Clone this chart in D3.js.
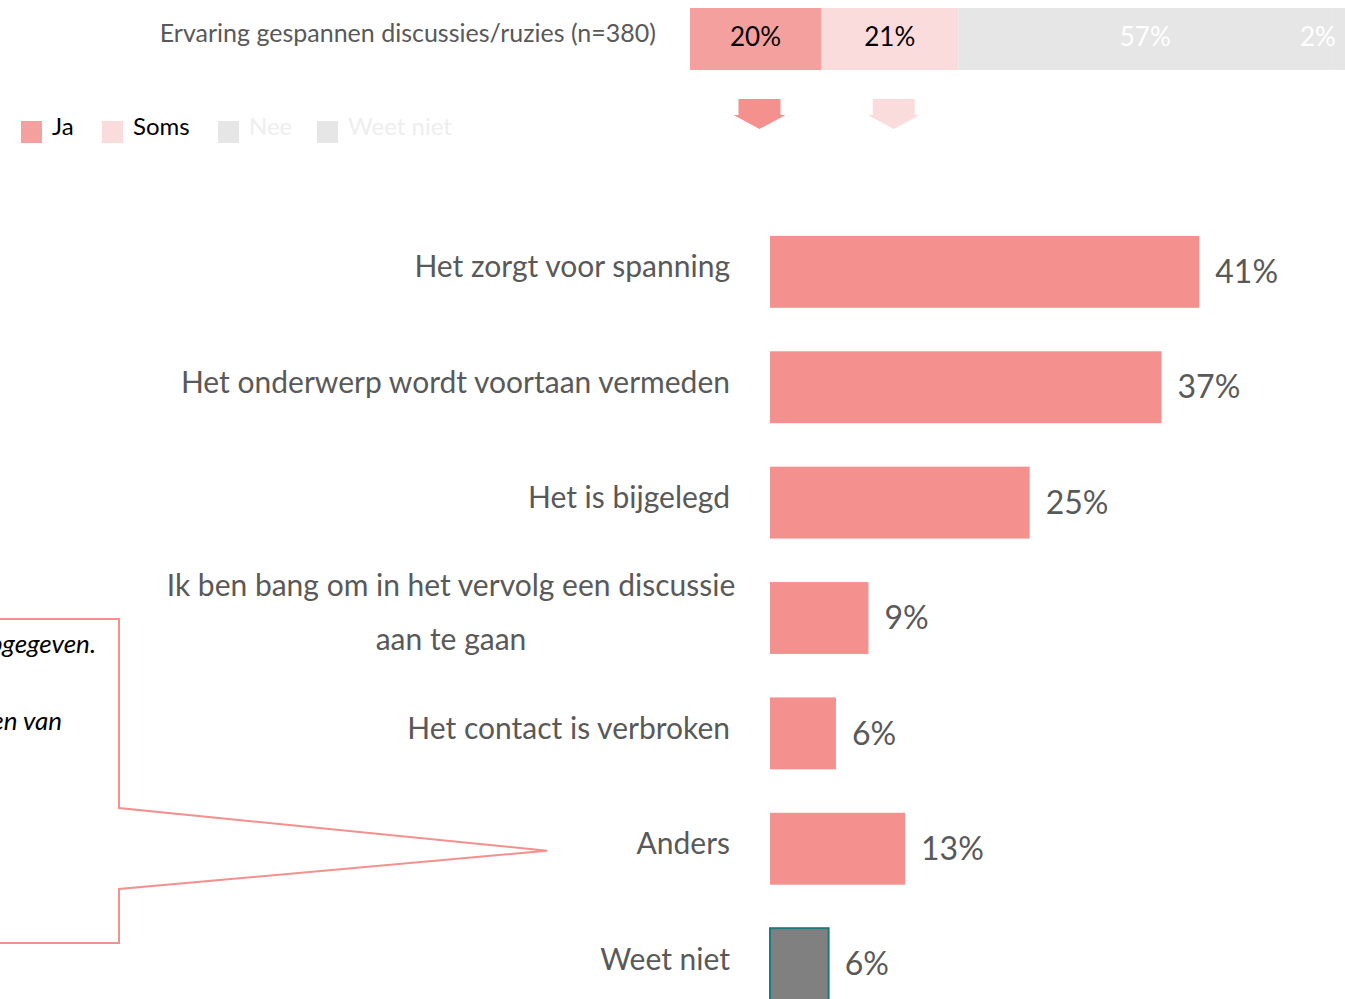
<!DOCTYPE html>
<html>
<head>
<meta charset="utf-8">
<script src="https://cdn.jsdelivr.net/npm/d3@7"></script>
<style>
  html, body { margin: 0; padding: 0; background: #fff; overflow: hidden; }
  svg { display: block; font-family: Lato, "Open Sans", sans-serif; }
</style>
</head>
<body>
<div id="chart"></div>
<script>
//Datos
const topCategories = ['Ja', 'Soms', 'Nee', 'Weet niet'];
const topValues = [20, 21, 57, 2];
const topTitle = 'Ervaring gespannen discussies/ruzies (n=380)';

const reasons = ['Het zorgt voor spanning', 'Het onderwerp wordt voortaan vermeden', 'Het is bijgelegd',
    'Ik ben bang om in het vervolg een discussie aan te gaan', 'Het contact is verbroken', 'Anders', 'Weet niet'];
const reasonValues = [41, 37.4, 24.8, 9.4, 6.3, 12.9, 5.6];
const reasonLabels = ['41%', '37%', '25%', '9%', '6%', '13%', '6%'];

const calloutLines = ['Er zijn diverse andere redenen opgegeven.', 'Bijvoorbeeld het verwateren van'];

//Colores
const COLOR_JA = '#F4A09E';
const COLOR_SOMS = '#FADCDD';
const COLOR_GREY = '#E6E6E6';
const COLOR_BAR = '#F4908E';
const COLOR_TEXT = '#595959';

const width = 1345, height = 999;

let svg = d3.select('#chart')
    .append('svg')
    .attr('width', width)
    .attr('height', height);

//Barra apilada superior
let xTop = d3.scaleLinear().domain([0, 100]).range([690, 1345]);
let stacked = [];
let acc = 0;
topValues.forEach(function(v, i) {
    stacked.push({ cat: topCategories[i], v: v, x0: acc, x1: acc + v });
    acc += v;
});
const topColor = d3.scaleOrdinal().domain(topCategories).range([COLOR_JA, COLOR_SOMS, COLOR_GREY, COLOR_GREY]);
const topTextColor = d3.scaleOrdinal().domain(topCategories).range(['#000', '#000', '#fff', '#fff']);

svg.append('text')
    .attr('x', 656)
    .attr('y', 33)
    .attr('dy', '0.35em')
    .attr('text-anchor', 'end')
    .attr('font-size', 25)
    .attr('fill', COLOR_TEXT)
    .text(topTitle);

svg.selectAll('.top-seg')
    .data(stacked)
    .enter()
    .append('rect')
    .attr('class', 'top-seg')
    .attr('x', function(d) { return xTop(d.x0); })
    .attr('y', 8)
    .attr('width', function(d) { return xTop(d.x1) - xTop(d.x0); })
    .attr('height', 62)
    .attr('fill', function(d) { return topColor(d.cat); });

svg.selectAll('.top-label')
    .data(stacked)
    .enter()
    .append('text')
    .attr('class', 'top-label')
    .attr('x', function(d) { return Math.min((xTop(d.x0) + xTop(d.x1)) / 2, width - 27); })
    .attr('y', 37)
    .attr('dy', '0.35em')
    .attr('text-anchor', 'middle')
    .attr('font-size', 26)
    .attr('fill', function(d) { return topTextColor(d.cat); })
    .text(function(d) { return d.v + '%'; });

//Flechas
svg.selectAll('.arrow')
    .data(stacked.slice(0, 2))
    .enter()
    .append('path')
    .attr('class', 'arrow')
    .attr('transform', function(d) { return 'translate(' + ((xTop(d.x0) + xTop(d.x1)) / 2 + 4) + ',99)'; })
    .attr('d', 'M-21,0 L21,0 L21,16 L26,16 L0,30 L-26,16 L-21,16 Z')
    .attr('fill', function(d, i) { return i == 0 ? COLOR_BAR : COLOR_SOMS; });

//Leyenda
const legendX = [21, 102, 218, 317];
const legendTextColor = ['#000', '#000', '#EEEEEE', '#EEEEEE'];
let legend = svg.selectAll('.legend')
    .data(topCategories)
    .enter()
    .append('g')
    .attr('class', 'legend')
    .attr('transform', function(d, i) { return 'translate(' + legendX[i] + ',121)'; });

legend.append('rect')
    .attr('width', 21)
    .attr('height', 22)
    .attr('fill', function(d, i) { return i == 0 ? COLOR_JA : topColor(d); });

legend.append('text')
    .attr('x', 31)
    .attr('y', 6)
    .attr('dy', '0.35em')
    .attr('font-size', 24)
    .attr('fill', function(d, i) { return legendTextColor[i]; })
    .text(function(d) { return d; });

//Barras horizontales
let x = d3.scaleLinear().domain([0, 100]).range([770, 770 + 1047]);
let y = d3.scaleBand().domain(reasons).range([214, 1022]).paddingInner(0.377).paddingOuter(0.19);

svg.selectAll('.bar')
    .data(reasons)
    .enter()
    .append('rect')
    .attr('class', 'bar')
    .attr('x', x(0))
    .attr('y', function(d) { return y(d); })
    .attr('width', function(d, i) { return x(reasonValues[i]) - x(0); })
    .attr('height', y.bandwidth())
    .attr('fill', function(d) { return d == 'Weet niet' ? '#808080' : COLOR_BAR; })
    .attr('stroke', function(d) { return d == 'Weet niet' ? '#1F7A80' : 'none'; })
    .attr('stroke-width', 2);

svg.selectAll('.value')
    .data(reasons)
    .enter()
    .append('text')
    .attr('class', 'value')
    .attr('x', function(d, i) { return x(reasonValues[i]) + 16; })
    .attr('y', function(d) { return y(d) + y.bandwidth() / 2; })
    .attr('dy', '0.35em')
    .attr('font-size', 32)
    .attr('fill', COLOR_TEXT)
    .text(function(d, i) { return reasonLabels[i]; });

//Etiquetas (con salto de línea)
svg.selectAll('.cat')
    .data(reasons)
    .enter()
    .append('text')
    .attr('class', 'cat')
    .attr('font-size', 30)
    .attr('fill', COLOR_TEXT)
    .each(function(d) {
        let t = d3.select(this);
        let cy = y(d) + y.bandwidth() / 2;
        t.attr('x', 730).attr('y', cy - 5).attr('dy', '0.35em').attr('text-anchor', 'end').text(d);
        if (this.getComputedTextLength() > 600) {
            let words = d.split(' ');
            let first = words.slice(0, 9).join(' ');
            let second = words.slice(9).join(' ');
            t.text(null).attr('text-anchor', 'middle').attr('dy', null);
            t.append('tspan').attr('x', 451).attr('y', cy - 33).attr('dy', '0.35em').text(first);
            t.append('tspan').attr('x', 451).attr('y', cy + 21).attr('dy', '0.35em').text(second);
        }
    });

//Globo de comentario
const anders = y('Anders') + y.bandwidth() / 2;
svg.append('path')
    .attr('d', 'M-5,619 L119,619 L119,808 L547,' + (anders + 2) + ' L119,889 L119,943 L-5,943')
    .attr('fill', 'none')
    .attr('stroke', COLOR_BAR)
    .attr('stroke-width', 2);

svg.selectAll('.callout')
    .data(calloutLines)
    .enter()
    .append('text')
    .attr('class', 'callout')
    .attr('x', function(d, i) { return i == 0 ? 96 : 62; })
    .attr('y', function(d, i) { return i == 0 ? 644 : 721; })
    .attr('dy', '0.35em')
    .attr('text-anchor', 'end')
    .attr('font-size', 26)
    .attr('font-style', 'italic')
    .attr('fill', '#000')
    .text(function(d) { return d; });
</script>
</body>
</html>
